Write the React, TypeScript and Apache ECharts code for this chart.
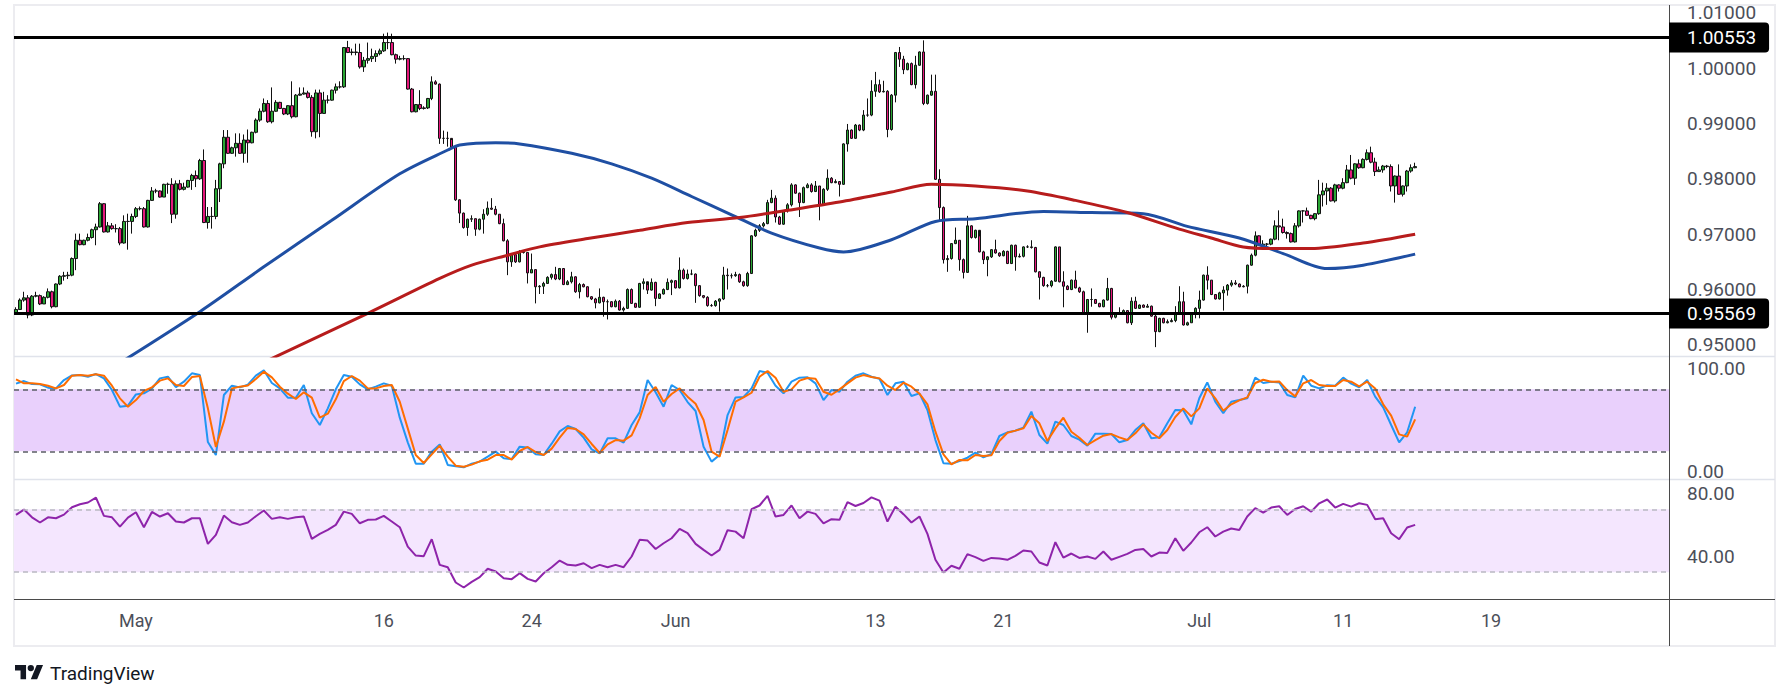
import React, { useEffect, useRef } from 'react';
import * as echarts from 'echarts';

// ---------- DATA ----------
const firstOpen = 0.9557;

const closes = [
  0.9564,0.9581,0.9585,0.9554,0.9588,0.9589,0.9574,0.9586,0.9596,0.9569,
  0.9610,0.9624,0.9625,0.9626,0.9656,0.9689,0.9681,0.9689,0.9694,0.9708,
  0.9713,0.9755,0.9704,0.9715,0.9710,0.9710,0.9684,0.9723,0.9723,0.9732,
  0.9746,0.9746,0.9713,0.9761,0.9778,0.9778,0.9767,0.9790,0.9790,0.9736,
  0.9791,0.9781,0.9785,0.9797,0.9806,0.9800,0.9833,0.9721,0.9732,0.9732,
  0.9782,0.9827,0.9875,0.9846,0.9856,0.9864,0.9846,0.9870,0.9865,0.9884,
  0.9906,0.9922,0.9936,0.9903,0.9922,0.9938,0.9927,0.9917,0.9932,0.9912,
  0.9951,0.9953,0.9955,0.9947,0.9885,0.9955,0.9918,0.9942,0.9942,0.9960,
  0.9966,0.9966,1.0037,1.0028,1.0029,1.0028,1.0002,1.0014,1.0017,1.0021,
  1.0026,1.0031,1.0046,1.0046,1.0024,1.0016,1.0017,1.0017,0.9962,0.9921,
  0.9934,0.9927,0.9928,0.9945,0.9975,0.9971,0.9873,0.9873,0.9873,0.9857,
  0.9762,0.9738,0.9712,0.9727,0.9728,0.9709,0.9727,0.9736,0.9747,0.9745,
  0.9736,0.9719,0.9688,0.9650,0.9663,0.9650,0.9668,0.9667,0.9630,0.9636,
  0.9605,0.9606,0.9611,0.9622,0.9627,0.9619,0.9638,0.9609,0.9614,0.9623,
  0.9596,0.9609,0.9605,0.9587,0.9583,0.9576,0.9586,0.9578,0.9578,0.9569,
  0.9579,0.9563,0.9566,0.9600,0.9575,0.9568,0.9611,0.9614,0.9599,0.9613,
  0.9584,0.9592,0.9600,0.9613,0.9616,0.9603,0.9635,0.9620,0.9628,0.9628,
  0.9607,0.9589,0.9586,0.9571,0.9571,0.9579,0.9583,0.9626,0.9625,0.9625,
  0.9627,0.9614,0.9607,0.9629,0.9697,0.9707,0.9715,0.9719,0.9757,0.9765,
  0.9731,0.9718,0.9742,0.9753,0.9789,0.9774,0.9757,0.9784,0.9789,0.9777,
  0.9787,0.9753,0.9781,0.9801,0.9793,0.9795,0.9790,0.9863,0.9888,0.9873,
  0.9897,0.9888,0.9915,0.9915,0.9958,0.9970,0.9957,0.9958,0.9889,0.9951,
  1.0028,1.0016,0.9997,1.0008,0.9970,1.0005,1.0029,0.9936,0.9951,0.9958,
  0.9799,0.9748,0.9654,0.9656,0.9683,0.9689,0.9654,0.9631,0.9715,0.9694,
  0.9707,0.9668,0.9654,0.9659,0.9672,0.9666,0.9661,0.9669,0.9647,0.9680,
  0.9659,0.9660,0.9677,0.9677,0.9676,0.9632,0.9622,0.9607,0.9607,0.9615,
  0.9677,0.9614,0.9606,0.9600,0.9617,0.9603,0.9596,0.9557,0.9582,0.9582,
  0.9575,0.9569,0.9581,0.9602,0.9550,0.9558,0.9558,0.9562,0.9540,0.9579,
  0.9566,0.9572,0.9568,0.9570,0.9552,0.9524,0.9548,0.9540,0.9542,0.9544,
  0.9557,0.9578,0.9536,0.9540,0.9556,0.9566,0.9581,0.9626,0.9617,0.9591,
  0.9583,0.9594,0.9599,0.9608,0.9612,0.9610,0.9605,0.9606,0.9644,0.9662,
  0.9697,0.9680,0.9682,0.9682,0.9691,0.9715,0.9713,0.9703,0.9701,0.9686,
  0.9715,0.9742,0.9742,0.9734,0.9728,0.9737,0.9771,0.9778,0.9783,0.9760,
  0.9789,0.9783,0.9793,0.9816,0.9801,0.9827,0.9820,0.9835,0.9847,0.9830,
  0.9813,0.9816,0.9823,0.9822,0.9787,0.9805,0.9772,0.9787,0.9814,0.9820,0.9822,
];

const highs = [
  0.9568,0.9584,0.9596,0.9590,0.9590,0.9596,0.9591,0.9588,0.9602,0.9598,
  0.9611,0.9626,0.9632,0.9632,0.9658,0.9701,0.9701,0.9690,0.9701,0.9710,
  0.9719,0.9758,0.9756,0.9722,0.9720,0.9718,0.9713,0.9734,0.9737,0.9737,
  0.9749,0.9750,0.9749,0.9762,0.9785,0.9782,0.9779,0.9791,0.9793,0.9801,
  0.9797,0.9798,0.9793,0.9798,0.9809,0.9815,0.9836,0.9853,0.9749,0.9749,
  0.9798,0.9829,0.9888,0.9888,0.9858,0.9882,0.9882,0.9880,0.9889,0.9885,
  0.9909,0.9927,0.9945,0.9942,0.9965,0.9942,0.9939,0.9928,0.9933,0.9976,
  0.9953,0.9965,0.9965,0.9959,0.9951,0.9961,0.9961,0.9957,0.9951,0.9961,
  0.9972,0.9976,1.0038,1.0049,1.0035,1.0044,1.0044,1.0020,1.0046,1.0035,
  1.0032,1.0035,1.0062,1.0064,1.0062,1.0026,1.0022,1.0023,1.0018,0.9964,
  0.9935,0.9960,0.9931,0.9946,0.9985,0.9978,0.9972,0.9887,0.9885,0.9870,
  0.9859,0.9763,0.9739,0.9728,0.9734,0.9728,0.9728,0.9745,0.9759,0.9765,
  0.9751,0.9736,0.9728,0.9691,0.9665,0.9665,0.9671,0.9670,0.9667,0.9665,
  0.9636,0.9608,0.9614,0.9624,0.9629,0.9641,0.9639,0.9638,0.9617,0.9632,
  0.9624,0.9612,0.9611,0.9606,0.9588,0.9585,0.9602,0.9587,0.9582,0.9579,
  0.9582,0.9581,0.9569,0.9602,0.9602,0.9576,0.9612,0.9620,0.9608,0.9620,
  0.9614,0.9593,0.9602,0.9620,0.9618,0.9617,0.9658,0.9638,0.9636,0.9636,
  0.9629,0.9608,0.9590,0.9588,0.9574,0.9581,0.9584,0.9641,0.9638,0.9629,
  0.9632,0.9629,0.9616,0.9632,0.9698,0.9710,0.9718,0.9722,0.9762,0.9780,
  0.9770,0.9733,0.9743,0.9756,0.9792,0.9790,0.9775,0.9786,0.9792,0.9792,
  0.9796,0.9787,0.9783,0.9817,0.9803,0.9799,0.9796,0.9864,0.9899,0.9889,
  0.9899,0.9898,0.9924,0.9945,0.9978,0.9993,0.9979,0.9977,0.9960,0.9953,
  1.0029,1.0038,1.0022,1.0010,1.0010,1.0022,1.0030,1.0050,0.9952,0.9988,
  0.9988,0.9817,0.9750,0.9662,0.9684,0.9712,0.9689,0.9656,0.9733,0.9716,
  0.9708,0.9696,0.9670,0.9660,0.9673,0.9690,0.9667,0.9671,0.9670,0.9681,
  0.9681,0.9665,0.9678,0.9680,0.9689,0.9677,0.9633,0.9623,0.9610,0.9617,
  0.9678,0.9677,0.9633,0.9608,0.9618,0.9634,0.9605,0.9598,0.9583,0.9602,
  0.9583,0.9576,0.9582,0.9621,0.9603,0.9559,0.9568,0.9564,0.9563,0.9586,
  0.9587,0.9573,0.9573,0.9574,0.9571,0.9554,0.9549,0.9549,0.9546,0.9548,
  0.9570,0.9606,0.9596,0.9542,0.9557,0.9568,0.9598,0.9627,0.9642,0.9617,
  0.9591,0.9596,0.9606,0.9610,0.9617,0.9617,0.9611,0.9608,0.9645,0.9665,
  0.9705,0.9698,0.9689,0.9684,0.9692,0.9725,0.9743,0.9728,0.9705,0.9703,
  0.9720,0.9743,0.9743,0.9748,0.9735,0.9738,0.9798,0.9793,0.9792,0.9785,
  0.9791,0.9790,0.9801,0.9825,0.9843,0.9828,0.9835,0.9837,0.9853,0.9858,
  0.9838,0.9822,0.9825,0.9825,0.9826,0.9806,0.9826,0.9788,0.9816,0.9826,0.9829,
];

const lows = [
  0.9556,0.9563,0.9578,0.9548,0.9552,0.9586,0.9572,0.9574,0.9584,0.9566,
  0.9568,0.9608,0.9616,0.9619,0.9624,0.9635,0.9680,0.9680,0.9687,0.9692,
  0.9680,0.9712,0.9703,0.9703,0.9708,0.9703,0.9680,0.9683,0.9672,0.9701,
  0.9729,0.9743,0.9712,0.9712,0.9760,0.9774,0.9766,0.9767,0.9773,0.9720,
  0.9728,0.9779,0.9779,0.9784,0.9780,0.9785,0.9798,0.9720,0.9710,0.9710,
  0.9727,0.9758,0.9819,0.9845,0.9845,0.9840,0.9845,0.9829,0.9829,0.9864,
  0.9882,0.9903,0.9920,0.9901,0.9900,0.9921,0.9926,0.9915,0.9915,0.9909,
  0.9911,0.9950,0.9952,0.9945,0.9876,0.9873,0.9875,0.9918,0.9936,0.9941,
  0.9954,0.9963,0.9964,1.0027,1.0023,1.0023,0.9999,0.9993,1.0008,1.0011,
  1.0011,1.0023,1.0029,1.0034,1.0023,1.0008,1.0014,1.0014,0.9961,0.9920,
  0.9920,0.9924,0.9925,0.9926,0.9942,0.9970,0.9863,0.9863,0.9858,0.9856,
  0.9760,0.9720,0.9710,0.9697,0.9722,0.9697,0.9707,0.9701,0.9733,0.9744,
  0.9734,0.9718,0.9687,0.9626,0.9641,0.9648,0.9649,0.9665,0.9611,0.9630,
  0.9575,0.9592,0.9592,0.9610,0.9618,0.9617,0.9617,0.9608,0.9608,0.9611,
  0.9594,0.9584,0.9604,0.9586,0.9581,0.9566,0.9575,0.9551,0.9546,0.9568,
  0.9568,0.9562,0.9560,0.9565,0.9574,0.9567,0.9567,0.9600,0.9592,0.9598,
  0.9570,0.9583,0.9591,0.9599,0.9590,0.9602,0.9602,0.9618,0.9618,0.9626,
  0.9576,0.9587,0.9584,0.9569,0.9569,0.9569,0.9560,0.9581,0.9600,0.9620,
  0.9623,0.9612,0.9605,0.9605,0.9628,0.9695,0.9704,0.9712,0.9718,0.9756,
  0.9721,0.9717,0.9717,0.9739,0.9750,0.9773,0.9731,0.9756,0.9783,0.9775,
  0.9776,0.9725,0.9751,0.9778,0.9792,0.9792,0.9768,0.9789,0.9849,0.9872,
  0.9872,0.9886,0.9886,0.9912,0.9913,0.9948,0.9955,0.9956,0.9875,0.9887,
  0.9938,1.0002,0.9989,0.9996,0.9969,0.9963,1.0004,0.9933,0.9934,0.9950,
  0.9798,0.9725,0.9647,0.9632,0.9654,0.9682,0.9634,0.9620,0.9630,0.9692,
  0.9692,0.9667,0.9646,0.9624,0.9657,0.9665,0.9659,0.9660,0.9646,0.9646,
  0.9634,0.9658,0.9658,0.9675,0.9674,0.9631,0.9582,0.9605,0.9604,0.9604,
  0.9614,0.9613,0.9568,0.9599,0.9599,0.9602,0.9594,0.9556,0.9522,0.9569,
  0.9574,0.9568,0.9568,0.9580,0.9546,0.9548,0.9556,0.9557,0.9539,0.9536,
  0.9565,0.9565,0.9567,0.9568,0.9551,0.9496,0.9523,0.9539,0.9539,0.9541,
  0.9541,0.9556,0.9535,0.9535,0.9540,0.9548,0.9548,0.9580,0.9600,0.9590,
  0.9582,0.9582,0.9562,0.9589,0.9605,0.9608,0.9604,0.9604,0.9593,0.9643,
  0.9660,0.9679,0.9680,0.9672,0.9680,0.9689,0.9689,0.9701,0.9692,0.9685,
  0.9685,0.9712,0.9721,0.9733,0.9727,0.9725,0.9735,0.9750,0.9753,0.9759,
  0.9757,0.9777,0.9781,0.9792,0.9799,0.9789,0.9818,0.9819,0.9833,0.9828,
  0.9805,0.9813,0.9811,0.9819,0.9777,0.9757,0.9771,0.9768,0.9777,0.9811,0.9819,
];

// moving averages: [candle index, value]
const blueMa = [
  [25,0.9463],[46,0.9560],[62,0.9641],[79,0.9725],[96,0.9809],[108,0.9852],[111,0.9861],
  [120,0.9865],[126,0.9863],[139,0.9846],[149,0.9827],[159,0.9801],[169,0.9768],[179,0.9735],
  [189,0.9702],[201,0.9675],[207,0.9668],[219,0.9690],[230,0.9723],[240,0.9728],[257,0.9741],
  [269,0.9739],[282,0.9737],[293,0.9714],[306,0.9693],[317,0.9665],[328,0.9638],[337,0.9644],[350,0.9664],
];
const redMa = [
  [60,0.9462],[88,0.9557],[106,0.9620],[114,0.9644],[123,0.9662],[131,0.9677],[143,0.9692],
  [156,0.9707],[168,0.9721],[181,0.9730],[193,0.9743],[206,0.9758],[219,0.9776],[229,0.9790],
  [240,0.9787],[253,0.9778],[265,0.9761],[278,0.9739],[291,0.9709],[299,0.9693],[307,0.9677],
  [316,0.9674],[324,0.9674],[337,0.9684],[350,0.9700],
];

// oscillators, read every SAMPLE_STEP candles
const SAMPLE_STEP = 2;
const stochK = [
  85.5,88.0,85.1,84.8,81.6,80.9,89.0,93.5,93.8,92.2,
  94.8,90.6,79.3,63.2,64.2,75.1,76.1,80.6,90.6,92.2,
  82.2,87.4,95.5,93.8,29.0,16.4,74.5,83.5,81.9,84.5,
  93.2,98.4,86.1,80.9,71.9,71.9,84.2,56.8,45.5,61.6,
  80.0,93.8,92.2,84.8,80.0,82.6,85.8,83.5,52.6,28.7,
  8.0,8.0,19.7,26.7,6.8,5.5,4.5,8.0,10.0,14.8,
  19.7,13.2,12.5,24.5,23.8,17.1,16.4,27.4,39.3,44.5,
  41.6,33.2,21.9,18.0,32.6,32.6,28.4,45.5,57.7,89.0,
  77.1,63.2,84.2,79.3,67.7,59.0,24.5,10.0,16.4,55.1,
  72.2,72.6,80.9,97.7,96.1,83.5,76.1,87.4,91.3,91.6,
  85.8,69.6,79.3,77.7,87.4,93.2,95.5,92.2,90.3,74.5,
  85.8,87.4,73.5,76.1,60.0,30.9,8.4,8.0,10.6,13.8,
  18.7,14.2,17.4,34.8,38.4,40.0,42.9,58.4,35.8,27.4,
  48.7,45.5,34.8,31.3,25.5,37.1,37.1,36.7,28.7,30.9,
  40.6,47.1,32.6,33.5,47.1,60.0,59.7,46.1,71.3,86.7,
  68.0,56.8,68.0,69.6,71.3,91.3,86.1,87.4,86.7,74.5,
  72.2,93.2,83.5,80.9,83.9,83.5,91.3,85.5,81.9,89.0,
  72.9,62.6,45.5,28.7,38.4,63.2,
];
const stochD = [
  89.7,85.8,85.8,85.1,83.5,80.9,84.2,93.2,93.8,93.2,
  94.5,93.2,83.5,71.3,63.2,69.6,78.4,81.9,88.4,90.6,
  84.2,83.2,91.9,92.9,61.6,24.2,48.7,80.9,82.6,83.8,
  90.0,97.1,91.6,82.6,75.8,70.6,77.1,71.9,52.6,56.4,
  70.3,88.0,92.9,88.4,80.9,80.9,83.2,84.2,68.0,42.2,
  16.4,8.7,17.1,25.5,14.8,6.1,5.1,7.1,10.3,11.9,
  16.4,16.4,11.9,20.3,24.2,19.3,16.4,22.6,33.2,42.6,
  41.6,36.4,27.1,18.4,26.7,30.9,30.3,35.5,51.9,74.5,
  82.2,68.0,75.5,80.9,72.9,66.1,50.3,19.7,14.8,40.6,
  68.0,72.2,76.7,92.2,97.7,91.3,77.7,80.0,88.4,91.0,
  90.3,77.7,74.8,80.0,85.8,91.3,93.8,91.9,90.6,83.5,
  79.3,86.4,82.6,75.8,65.5,39.0,17.1,7.4,11.6,11.3,
  16.4,15.5,16.1,30.0,38.0,40.0,42.2,54.2,47.1,30.0,
  42.2,52.6,39.0,33.2,26.1,30.9,35.1,36.7,33.5,30.9,
  37.4,46.1,38.0,32.6,40.6,53.2,61.6,53.8,61.6,80.9,
  71.3,59.3,65.5,69.3,72.2,86.1,89.3,87.4,87.7,79.3,
  73.2,85.8,89.0,84.2,83.2,83.2,89.0,87.4,82.9,87.4,
  80.9,65.5,54.5,36.4,34.2,50.9,
];
const rsi = [
  66.4,69.8,64.9,61.6,64.9,64.3,66.6,71.3,73.2,74.3,
  77.4,65.8,64.9,59.0,64.7,68.1,58.6,68.3,65.4,67.5,
  62.2,61.6,64.3,64.3,48.0,53.7,66.0,61.8,60.1,61.6,
  65.6,69.2,63.9,64.9,63.9,64.9,65.4,51.2,54.4,56.9,
  60.1,68.5,67.1,61.1,63.3,63.5,65.8,62.2,58.6,46.3,
  40.6,40.2,51.0,34.7,33.2,23.5,20.3,23.9,26.9,32.2,
  30.5,26.2,25.6,29.4,25.8,24.1,29.4,33.2,37.4,34.7,
  34.3,35.7,32.6,34.7,33.2,34.7,33.2,40.0,50.6,50.1,
  44.8,48.4,51.6,57.5,54.8,48.0,44.2,40.6,44.2,56.7,
  55.8,51.6,70.0,72.4,78.5,65.4,66.4,72.4,64.3,68.5,
  67.1,61.1,63.7,63.3,74.5,72.1,74.0,77.6,75.5,62.2,
  71.7,66.9,61.6,65.4,54.4,37.9,29.8,34.1,32.2,41.5,
  39.6,37.2,39.1,38.7,37.9,40.4,43.8,43.2,36.2,34.3,
  49.1,39.3,41.9,39.1,40.0,38.5,43.2,37.9,39.8,41.7,
  44.2,44.8,40.0,42.5,42.3,51.6,43.6,48.9,55.4,58.6,
  52.7,55.8,57.8,56.9,65.4,70.7,67.9,71.1,71.9,66.4,
  70.2,71.9,68.5,73.8,76.2,71.1,73.4,71.7,73.8,72.8,
  63.7,64.3,54.8,51.0,58.4,60.1,
];

const levels = [1.00553, 0.95569];
const priceTicks = [0.95, 0.96, 0.97, 0.98, 0.99, 1.0, 1.01];
const stochTicks = [0, 100];
const rsiTicks = [40, 80];
const stochBand = [20, 80];
const rsiBand = [30, 70];
// date label -> first candle index of that day
const dateTicks: [string, number][] = [
  ['May', 30], ['16', 92], ['24', 129], ['Jun', 165], ['13', 215],
  ['21', 247], ['Jul', 296], ['11', 332], ['19', 369],
];
const SLOTS = 414;

// ---------- LOGO SHAPE ----------
const TV_LOGO_PATH =
  'M14 22H7V11H0V4h14v18zM28 22h-8l7.5-18h8L28 22zM24 8a4 4 0 1 1-8 0a4 4 0 1 1 8 0z';
echarts.graphic.registerShape('tvlogo', echarts.graphic.extendPath(TV_LOGO_PATH, {}));

const FONT = 'Roboto, "DejaVu Sans", sans-serif';
const LABEL_COLOR = '#4c4f59';

function buildOption(): any {
  const categories = Array.from({ length: SLOTS }, (_, i) => String(i));
  const tickMap = new Map<number, string>(dateTicks.map(([l, i]) => [i, l]));
  const candles = closes.map((c, i) => [i === 0 ? firstOpen : closes[i - 1], c, lows[i], highs[i]]);
  const sampled = (arr: number[]) => arr.map((v, k) => [k * SAMPLE_STEP, v]);

  const xAxes = [0, 1, 2].map((g) => ({
    type: 'category',
    gridIndex: g,
    data: categories,
    boundaryGap: true,
    axisLine: { show: false },
    axisTick: { show: false },
    splitLine: { show: false },
    axisPointer: { show: false },
    axisLabel:
      g === 2
        ? {
            show: true,
            interval: (idx: number) => tickMap.has(idx),
            formatter: (val: string) => tickMap.get(Number(val)) ?? '',
            color: LABEL_COLOR,
            fontSize: 18,
            fontFamily: FONT,
            margin: 12,
          }
        : { show: false },
  }));

  const yBase = {
    type: 'value',
    position: 'right',
    splitLine: { show: false },
    axisLine: { show: false },
    axisTick: { show: false },
  };

  const bandSeries = (xi: number, band: number[], fill: string, dash: string, dashW: number) => ({
    type: 'line',
    xAxisIndex: xi,
    yAxisIndex: xi,
    data: [],
    z: 1,
    silent: true,
    markArea: {
      silent: true,
      itemStyle: { color: fill },
      data: [[{ yAxis: band[0] }, { yAxis: band[1] }]],
    },
    markLine: {
      silent: true,
      precision: 5,
      symbol: ['none', 'none'],
      label: { show: false },
      lineStyle: { color: dash, width: dashW, type: [5, 4] },
      data: band.map((v) => ({ yAxis: v })),
    },
  });

  const lineSeries = (xi: number, data: any[], color: string, width: number, smooth: any = false) => ({
    type: 'line',
    xAxisIndex: xi,
    yAxisIndex: xi,
    data,
    smooth,
    showSymbol: false,
    symbol: 'none',
    z: 3,
    silent: true,
    lineStyle: { color, width },
  });

  return {
    animation: false,
    backgroundColor: '#ffffff',
    textStyle: { fontFamily: FONT },
    grid: [
      { left: 14, top: 6, width: 1655, height: 350 },
      { left: 14, top: 357, width: 1655, height: 122 },
      { left: 14, top: 480, width: 1655, height: 119 },
    ],
    xAxis: xAxes,
    yAxis: [
      {
        ...yBase,
        gridIndex: 0,
        min: 0.948,
        max: 1.0112,
        axisLabel: {
          customValues: priceTicks,
          formatter: (v: number) => v.toFixed(5),
          color: LABEL_COLOR,
          fontSize: 19,
          fontFamily: FONT,
          margin: 18,
        },
      },
      {
        ...yBase,
        gridIndex: 1,
        min: -6.8,
        max: 111.3,
        axisLabel: {
          customValues: stochTicks,
          formatter: (v: number) => v.toFixed(2),
          color: LABEL_COLOR,
          fontSize: 19,
          fontFamily: FONT,
          margin: 18,
        },
      },
      {
        ...yBase,
        gridIndex: 2,
        min: 13,
        max: 88.6,
        axisLabel: {
          customValues: rsiTicks,
          formatter: (v: number) => v.toFixed(2),
          color: LABEL_COLOR,
          fontSize: 19,
          fontFamily: FONT,
          margin: 18,
        },
      },
    ],
    series: [
      {
        type: 'candlestick',
        xAxisIndex: 0,
        yAxisIndex: 0,
        data: candles,
        barWidth: 3,
        z: 2,
        silent: true,
        itemStyle: {
          color: '#2aa634',
          color0: '#e5177b',
          borderColor: '#111111',
          borderColor0: '#111111',
          borderColorDoji: '#111111',
          borderWidth: 1,
        },
        markLine: {
          silent: true,
          precision: 5,
          symbol: ['none', 'none'],
          lineStyle: { color: '#000000', width: 3, type: 'solid' },
          label: {
            show: true,
            position: 'end',
            distance: 0,
            formatter: (p: any) => Number(p.value).toFixed(5),
            backgroundColor: '#000000',
            color: '#ffffff',
            fontSize: 19,
            fontFamily: FONT,
            padding: [6, 13, 5, 18],
            borderRadius: [0, 4, 4, 0],
          },
          data: levels.map((v) => ({ yAxis: v })),
        },
      },
      lineSeries(0, blueMa, '#1f4fa3', 3, 0.3),
      lineSeries(0, redMa, '#b71c1c', 3, 0.3),
      bandSeries(1, stochBand, '#e9d0fc', '#5b5d66', 1.5),
      lineSeries(1, sampled(stochK), '#2196f3', 2),
      lineSeries(1, sampled(stochD), '#ff6d00', 2),
      bandSeries(2, rsiBand, '#f4e6fe', '#b9b9c2', 1.5),
      lineSeries(2, sampled(rsi), '#8e24aa', 2),
    ],
    graphic: [
      { type: 'rect', silent: true, shape: { x: 14, y: 5, width: 1761, height: 641 }, style: { fill: 'none', stroke: '#ececf0', lineWidth: 2 } },
      { type: 'line', silent: true, shape: { x1: 14, y1: 356.5, x2: 1775, y2: 356.5 }, style: { stroke: '#e0e3eb', lineWidth: 1.5 } },
      { type: 'line', silent: true, shape: { x1: 14, y1: 479.5, x2: 1775, y2: 479.5 }, style: { stroke: '#e0e3eb', lineWidth: 1.5 } },
      { type: 'line', silent: true, shape: { x1: 14, y1: 599.5, x2: 1775, y2: 599.5 }, style: { stroke: '#4a4a4a', lineWidth: 1 } },
      { type: 'line', silent: true, shape: { x1: 1669.5, y1: 5, x2: 1669.5, y2: 646 }, style: { stroke: '#4a4a4a', lineWidth: 1 } },
      { type: 'tvlogo', silent: true, x: 15, y: 661.8, scaleX: 0.79, scaleY: 0.79, style: { fill: '#131722' } },
      { type: 'text', silent: true, x: 50, y: 673, style: { text: 'TradingView', fontSize: 19, fill: '#131722', fontFamily: FONT, verticalAlign: 'middle' } },
    ],
  };
}

export default function App() {
  const ref = useRef<HTMLDivElement>(null);
  useEffect(() => {
    if (!ref.current) return;
    const chart = echarts.init(ref.current, null, { renderer: 'svg' });
    chart.setOption(buildOption());
    return () => chart.dispose();
  }, []);
  return (
    <div
      ref={ref}
      style={{ position: 'absolute', left: 0, top: 0, width: 1791, height: 700, background: '#ffffff' }}
    />
  );
}
